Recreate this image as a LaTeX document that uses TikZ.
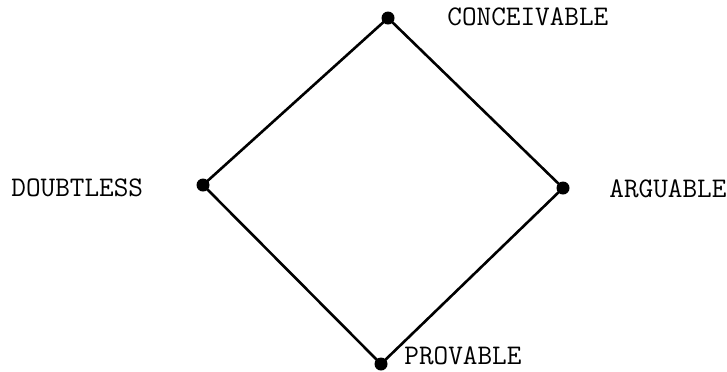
\documentclass[tikz,border=0pt]{standalone}
\usetikzlibrary{positioning}
\tikzset{
  pt/.style={circle,fill=black,inner sep=0pt,minimum size=6.5pt},
  lbl/.style={anchor=west,inner sep=0pt,font=\ttfamily\fontsize{14.2}{16}\selectfont},
}
\begin{document}
\begin{tikzpicture}[x=0.5pt,y=-0.5pt]
\useasboundingbox (0,0) rectangle (727,371);
% the four corners
\node[pt] (conc) at (388,18) {};
\node[pt] (doub) at (203,185) {};
\node[pt] (argu) at (563,188) {};
\node[pt] (prov) at (381,364) {};
\draw[line width=1.3pt] (conc.center) -- (doub.center) -- (prov.center) -- (argu.center) -- cycle;
% names
\node[lbl] (concl) at (447,17) {CONCEIVABLE};
\node[lbl] (doubl) at (11,188) {DOUBTLESS};
\node[lbl] (argul) at (609,189) {ARGUABLE};
\node[lbl] (provl) at (404,356) {PROVABLE};
\end{tikzpicture}
\end{document}
